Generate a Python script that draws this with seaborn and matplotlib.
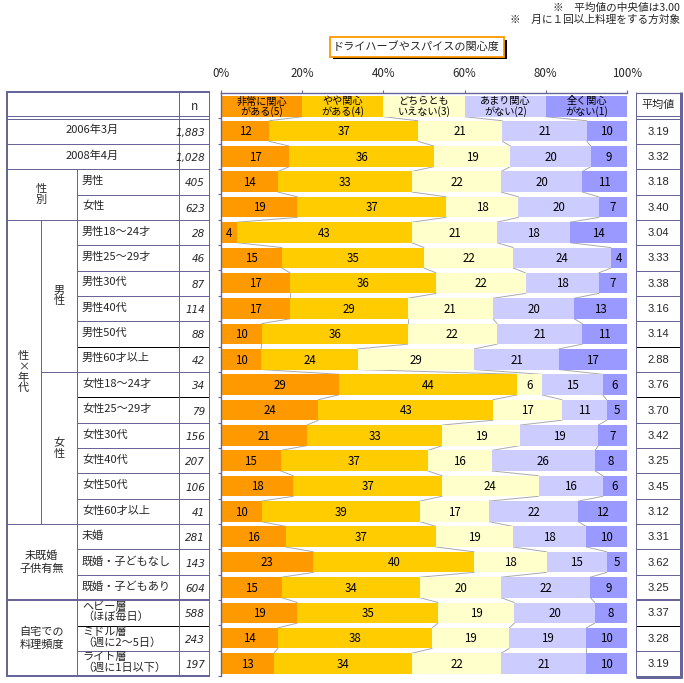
import numpy as np
import pandas as pd
import matplotlib
matplotlib.use("Agg")
import matplotlib.pyplot as plt
import seaborn as sns
from matplotlib.patches import Rectangle

sns.set_theme(style="white")
plt.rcParams['font.family'] = ['Noto Sans CJK JP', 'DejaVu Sans']

# ---------------- data ----------------
title = "ドライハーブやスパイスの関心度"
notes = ["※　平均値の中央値は3.00", "※　月に１回以上料理をする方対象"]
categories = ["非常に関心\nがある(5)", "やや関心\nがある(4)", "どちらとも\nいえない(3)",
              "あまり関心\nがない(2)", "全く関心\nがない(1)"]
colors = ["#FF9900", "#FFCC00", "#FFFFCC", "#CCCCFF", "#9999FF"]
pct_ticks = [0, 20, 40, 60, 80, 100]
pct_labels = ["0%", "20%", "40%", "60%", "80%", "100%"]

row_labels = ["2006年3月", "2008年4月", "男性", "女性",
              "男性18～24才", "男性25～29才", "男性30代", "男性40代", "男性50代", "男性60才以上",
              "女性18～24才", "女性25～29才", "女性30代", "女性40代", "女性50代", "女性60才以上",
              "未婚", "既婚・子どもなし", "既婚・子どもあり",
              "ヘビー層\n（ほぼ毎日）", "ミドル層\n（週に2～5日）", "ライト層\n（週に1日以下）"]
n_values = ["1,883", "1,028", "405", "623",
            "28", "46", "87", "114", "88", "42",
            "34", "79", "156", "207", "106", "41",
            "281", "143", "604",
            "588", "243", "197"]
very_interested = [12, 17, 14, 19, 4, 15, 17, 17, 10, 10, 29, 24, 21, 15, 18, 10, 16, 23, 15, 19, 14, 13]
somewhat_interested = [37, 36, 33, 37, 43, 35, 36, 29, 36, 24, 44, 43, 33, 37, 37, 39, 37, 40, 34, 35, 38, 34]
neutral = [21, 19, 22, 18, 21, 22, 22, 21, 22, 29, 6, 17, 19, 16, 24, 17, 19, 18, 20, 19, 19, 22]
not_very = [21, 20, 20, 20, 18, 24, 18, 20, 21, 21, 15, 11, 19, 26, 16, 22, 18, 15, 22, 20, 19, 21]
not_at_all = [10, 9, 11, 7, 14, 4, 7, 13, 11, 17, 6, 5, 7, 8, 6, 12, 10, 5, 9, 8, 10, 10]
means = ["3.19", "3.32", "3.18", "3.40", "3.04", "3.33", "3.38", "3.16", "3.14", "2.88",
         "3.76", "3.70", "3.42", "3.25", "3.45", "3.12", "3.31", "3.62", "3.25", "3.37", "3.28", "3.19"]

# group labels: (text, first row, last row, column)
group_labels = [("性\n別", 2, 3, "wide"), ("性\n×\n年\n代", 4, 15, "outer"),
                ("男\n性", 4, 9, "inner"), ("女\n性", 10, 15, "inner"),
                ("未既婚\n子供有無", 16, 18, "wide"), ("自宅での\n料理頻度", 19, 21, "wide")]

# ---------------- figure ----------------
W, H = 684, 683
fig = plt.figure(figsize=(W / 100, H / 100), dpi=100)
fig.patch.set_facecolor("white")

bg = fig.add_axes([0, 0, 1, 1])
bg.set_xlim(0, W)
bg.set_ylim(H, 0)
bg.axis("off")

Y0, P = 118.5, 25.35
NR = len(row_labels)
TOP = Y0 - 1.0 * P - 0.15  # ~93.2
BOT = Y0 + NR * P
X0, X1 = 221, 627

ax = fig.add_axes([X0 / W, (H - BOT) / H, (X1 - X0) / W, (BOT - TOP) / H])
ax.patch.set_alpha(0)

vals = np.array([very_interested, somewhat_interested, neutral, not_very, not_at_all], dtype=float).T
norm = vals / vals.sum(axis=1, keepdims=True) * 100
cum = np.cumsum(norm, axis=1)
df = pd.DataFrame({"label": row_labels})
for k in range(5):
    df[f"cum{k}"] = cum[:, k]

BH = 0.81
for k in reversed(range(5)):
    sns.barplot(data=df, y="label", x=f"cum{k}", order=row_labels, orient="h",
                color=colors[k], saturation=1, width=BH, errorbar=None,
                linewidth=0, edgecolor="none", ax=ax)

# segment labels
for i in range(NR):
    left = 0
    for k in range(5):
        w = norm[i, k]
        ax.text(left + w / 2, i + 0.03, str(int(vals[i, k])), ha="center", va="center",
                fontsize=8.3, color="black")
        left += w

# connector lines
lc = "#AAAAAA"
for i in range(NR - 1):
    for k in range(4):
        ax.plot([cum[i, k], cum[i + 1, k]], [i + BH / 2, i + 1 - BH / 2], color=lc, lw=0.7, zorder=0.5)
# header legend cells
hy0, hy1 = (95.7 - TOP) / P - 1.5, (116.7 - TOP) / P - 1.5
for k in range(5):
    ax.barh(y=(hy0 + hy1) / 2, width=20, left=20 * k, height=hy1 - hy0, color=colors[k], linewidth=0)
    ax.text(20 * k + 10, (hy0 + hy1) / 2 + 0.02, categories[k], ha="center", va="center",
            fontsize=7.3, linespacing=0.95, color="black")
for k in range(4):
    ax.plot([20 * (k + 1), cum[0, k]], [hy1, -BH / 2], color=lc, lw=0.7, zorder=0.5)

ax.set_ylim(NR - 0.5, -1.5)
ax.set_xlim(0, 100)
ax.set_xlabel("")
ax.set_ylabel("")
lcol = "#666699"
for s in ["right", "bottom"]:
    ax.spines[s].set_visible(False)
for s in ["left", "top"]:
    ax.spines[s].set_visible(True)
    ax.spines[s].set_color(lcol)
    ax.spines[s].set_linewidth(1.0)
ax.xaxis.tick_top()
ax.set_xticks(pct_ticks)
ax.set_xticklabels(pct_labels, fontsize=8.3)
ax.tick_params(axis="x", which="both", top=True, bottom=False, length=2.5, width=0.8,
               color=lcol, pad=7)
ax.set_yticks(np.arange(-0.5, NR, 1.0))
ax.set_yticklabels([])
ax.tick_params(axis="y", left=True, length=2.5, width=0.8, color=lcol, pad=0)

# ---------------- tables (pixel coordinates) ----------------
def hline(y, x0, x1, color=lcol, px=1.0):
    bg.plot([x0, x1], [y, y], color=color, lw=px * 0.72, solid_capstyle="butt")

def vline(x, y0, y1, color=lcol, px=1.0):
    bg.plot([x, x], [y0, y1], color=color, lw=px * 0.72, solid_capstyle="butt")

def rt(i):
    return Y0 + i * P

def rc(i):
    return Y0 + (i + 0.5) * P

group_starts = {1, 2, 4, 16, 19}
black_rows = {9, 11, 20}
thick_rows = {19}

# left table
LX = [6.5, 41, 77, 179, 209]
hline(92.2, 5.5, 209.5, px=2)
hline(116.2, 6, 209)
hline(118.6, 6, 209)
for i in range(1, NR):
    x0 = 6 if i in group_starts else (41 if i == 10 else 77)
    c = "black" if i in black_rows else lcol
    hline(rt(i), x0, 209, color=c, px=2 if i in thick_rows else 1)
hline(BOT, 5.5, 209.5, px=2)
vline(LX[0], 91.5, BOT + 1, px=2)
vline(LX[3], 92, BOT)
vline(LX[4], 92, BOT)
vline(LX[2], rt(2), BOT)
vline(LX[1], rt(4), rt(16))

bg.text(194, 106, "n", ha="center", va="center", fontsize=8.5)
for i, lab in enumerate(row_labels):
    if i < 2:
        bg.text(92, rc(i) - 1, lab, ha="center", va="center", fontsize=8)
    else:
        bg.text(82, rc(i) - 1, lab, ha="left", va="center", fontsize=8, linespacing=1.0)
    bg.text(205, rc(i) + 1.5, n_values[i], ha="right", va="center", fontsize=7.5,
            style="italic", family=["DejaVu Sans"])
for txt, r0, r1, col in group_labels:
    yc = (rt(r0) + rt(r1 + 1)) / 2
    xc = {"wide": 41.5, "outer": 23.5, "inner": 59}[col]
    ls = 1.35 if col == "wide" and len(txt.split("\n")[0]) > 1 else 1.1
    bg.text(xc, yc, txt, ha="center", va="center", fontsize=8, linespacing=ls)

# right table (平均値)
RX0, RX1 = 636, 680
hline(92.6, RX0, RX1 + 1.5, px=1.2)
hline(116.2, RX0, RX1)
hline(118.6, RX0, RX1)
for i in range(1, NR):
    c = "black" if i in black_rows else lcol
    hline(rt(i), RX0, RX1, color=c, px=2 if i in thick_rows else 1)
hline(BOT + 0.5, RX0 - 0.5, RX1 + 2, px=3)
vline(RX0, 92, BOT + 1)
vline(RX1 + 0.5, 92, BOT + 2, px=3)
bg.text(658, 105, "平均値", ha="center", va="center", fontsize=8)
for i, m in enumerate(means):
    bg.text(658, rc(i) + 0.5, m, ha="center", va="center", fontsize=8, family=["Liberation Sans", "DejaVu Sans"])

# title box with shadow
bg.add_patch(Rectangle((332.5, 39.5), 174, 19.5, facecolor="black", edgecolor="none", zorder=2))
bg.add_patch(Rectangle((330, 37), 174, 19.5, facecolor="white", edgecolor="#FF9900", lw=1.3, zorder=3))
bg.text(416, 46.5, title, ha="center", va="center", fontsize=8.0, zorder=4)

# notes
bg.text(680, 8, notes[0], ha="right", va="center", fontsize=7.7)
bg.text(680, 20, notes[1], ha="right", va="center", fontsize=7.7)

fig.savefig("out.png", dpi=100, facecolor="white")
